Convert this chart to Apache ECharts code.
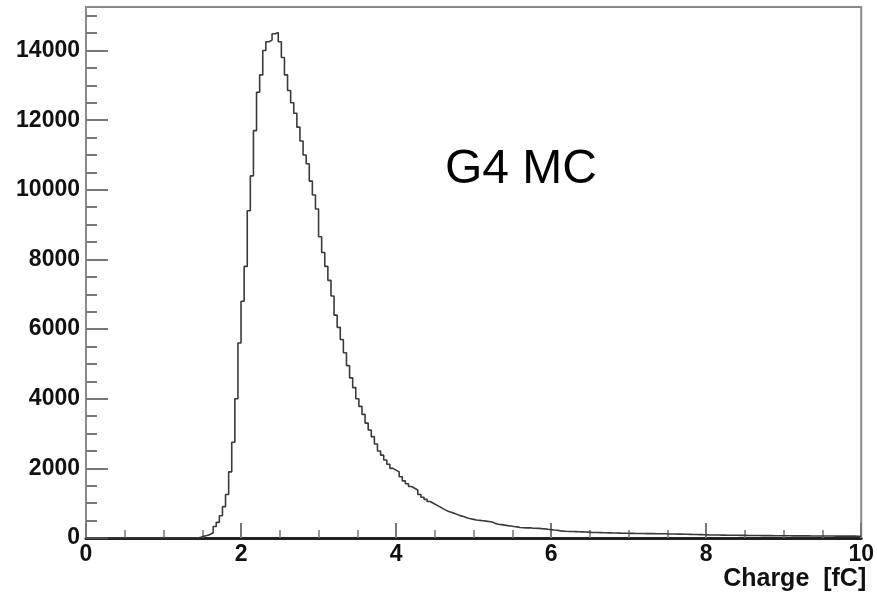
<!DOCTYPE html>
<html>
<head>
<meta charset="utf-8">
<script src="https://cdn.jsdelivr.net/npm/echarts@6/dist/echarts.min.js"></script>
<style>
html,body{margin:0;padding:0;background:#fff;}
#chart{width:877px;height:596px;}
</style>
</head>
<body>
<div id="chart"></div>
<script>
// Histogram definition
const binLow = 0;
const binWidth = 0.04;
// Bin contents (250 bins, 0..10 fC)
const counts = [
  0,0,0,0,0,0,0,0,0,0, 0,0,0,0,0,0,0,0,0,0, 0,0,0,0,0,0,0,0,0,0, 0,0,0,0,0,0,
  20,50,70,100,150,330,450,640,900,1250,1900,2750,4000,5600,6800,7800,9400,10400,11700,12800,
  13300,14000,14250,14300,14480,14520,14250,13800,13300,12850,12500,12200,11800,11400,11000,10750,10250,9850,9450,
  8650,8200,7800,7400,6950,6400,6050,5700,5320,4950,4600,4320,4000,3780,3550,3300,3100,2910,2700,2500,
  2380,2240,2120,2000,1950,1900,1760,1640,1560,1480,1430,1380,1250,1170,1110,1050,1000,950,900,850,
  800,760,730,700,665,635,610,575,555,535,515,505,495,485,475,460,420,395,385,370,
  355,345,330,320,300,
  295,290,292,285,280,276,268,262,250,240,230,222,205,198,192,188,185,182,178,176,
  172,168,162,158,156,153,150,149,147,145,142,140,138,137,135,134,132,131,130,128,
  127,126,125,124,122,121,120,118,117,115,112,110,108,106,104,102,100,98,96,95,
  90,88,86,85,84,82,80,80,78,77,76,75,74,72,71,70,70,69,68,67,
  67,66,65,65,64,63,63,62,62,61,61,60,60,59,59,58,58,57,57,56,
  56,55,55,55,54,54,53,53,52,52
];
const xMin = 0, xMax = 10, xStep = 2;
const yMin = 0, yMax = 15250;
const yMajorTicks = [0,2000,4000,6000,8000,10000,12000,14000];
const yMinorTicks = [500,1000,1500,2500,3000,3500,4500,5000,5500,6500,7000,7500,8500,9000,9500,10500,11000,11500,12500,13000,13500,14500,15000];
const xTitle = 'Charge  [fC]';
const label = 'G4 MC';

const data = counts.map((c, i) => [binLow + i * binWidth, c]);
data.push([binLow + counts.length * binWidth, counts[counts.length - 1]]);

const chart = echarts.init(document.getElementById('chart'), null, {renderer: 'canvas'});
const font = '"Liberation Sans", Arial, Helvetica, sans-serif';
const gridPos = {left: 86, top: 7, right: 10, bottom: 58};

chart.setOption({
  animation: false,
  backgroundColor: '#fff',
  grid: Object.assign({show: true, borderColor: '#8a8a8a', borderWidth: 2, backgroundColor: 'transparent', containLabel: false}, gridPos),
  xAxis: {
    type: 'value', min: xMin, max: xMax, interval: xStep,
    name: xTitle, nameLocation: 'end',
    nameTextStyle: {fontFamily: font, fontWeight: 'bold', fontSize: 25, color: '#111', align: 'right', verticalAlign: 'top', padding: [29, 0, 0, 0]},
    nameGap: 5,
    axisLine: {show: true, lineStyle: {color: '#222', width: 3}},
    axisTick: {show: true, inside: true, length: 15, lineStyle: {color: '#777', width: 2}},
    minorTick: {show: true, splitNumber: 4, length: 8, lineStyle: {color: '#777', width: 1.5}},
    splitLine: {show: false},
    axisLabel: {fontFamily: font, fontWeight: 'bold', fontSize: 23, color: '#111', margin: 5,
      showMinLabel: true, showMaxLabel: true, formatter: v => String(v)}
  },
  yAxis: [{
    type: 'value', min: yMin, max: yMax,
    axisLine: {show: true, lineStyle: {color: '#8a8a8a', width: 2}},
    axisTick: {show: true, inside: true, length: 22, customValues: yMajorTicks, lineStyle: {color: '#777', width: 2}},
    splitLine: {show: false},
    axisLabel: {fontFamily: font, fontWeight: 'bold', fontSize: 23, color: '#111', margin: 6, customValues: yMajorTicks,
      formatter: v => String(v)}
  }, {
    type: 'value', min: yMin, max: yMax, position: 'left',
    axisLine: {show: false},
    axisTick: {show: true, inside: true, length: 11, customValues: yMinorTicks, lineStyle: {color: '#777', width: 2}},
    splitLine: {show: false},
    axisLabel: {show: false}
  }],
  graphic: [{
    type: 'text', left: 445, top: 146,
    style: {text: label, font: '48px ' + font, fill: '#000'}
  }],
  series: [{
    type: 'line', step: 'end', data: data, yAxisIndex: 0,
    showSymbol: false, symbol: 'none',
    lineStyle: {color: '#3a3a3a', width: 1.6},
    z: 3
  }]
});
</script>
</body>
</html>
